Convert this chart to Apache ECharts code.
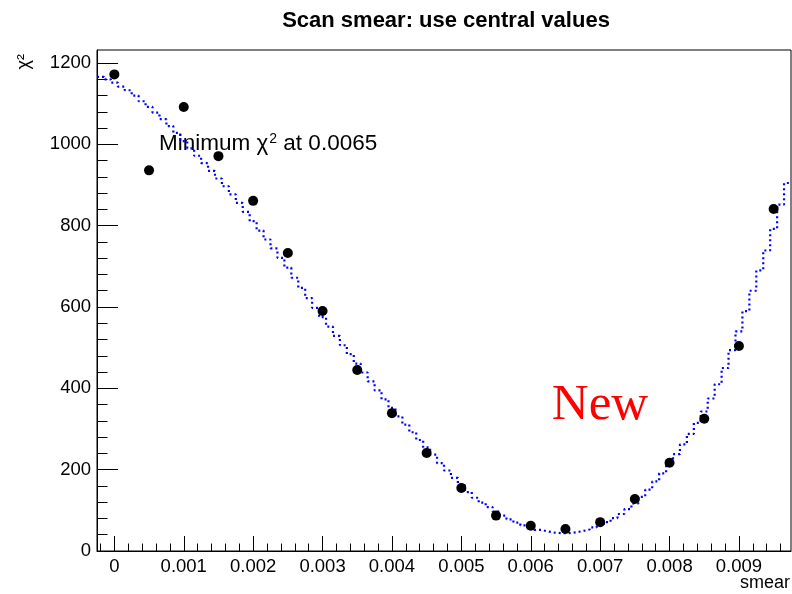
<!DOCTYPE html>
<html>
<head>
<meta charset="utf-8">
<script src="https://cdn.jsdelivr.net/npm/echarts@6/dist/echarts.min.js"></script>
<style>
  html, body { margin: 0; padding: 0; background: #fff; }
  #chart { width: 792px; height: 594px; }
</style>
</head>
<body>
<div id="chart"></div>
<script>
// scan points (black markers)
var scanSmear = [0, 0.0005, 0.001, 0.0015, 0.002, 0.0025, 0.003, 0.0035, 0.004, 0.0045,
                 0.005, 0.0055, 0.006, 0.0065, 0.007, 0.0075, 0.008, 0.0085, 0.009, 0.0095];
var scanChi2 = [1172, 936, 1092, 971, 861, 733, 590, 445, 339, 241,
                155, 87, 62, 54, 71, 128, 217, 325, 504, 841];

// fitted curve, drawn as a histogram (100 bins of 0.0001 from -0.00025)
var fitLow = -0.00025;
var fitBinWidth = 0.0001;
var fitChi2 = [1166, 1160,
  1152, 1142, 1133, 1120, 1106, 1092, 1078, 1062, 1045, 1028,
  1008, 990, 972, 954, 935, 916, 897, 877, 856, 834,
  811, 788, 766, 744, 721, 697, 672, 647, 622, 598,
  575, 552, 529, 506, 484, 461, 439, 417, 395, 373,
  352, 331, 311, 292, 273, 255, 237, 216, 198, 180,
  162, 145, 131, 119, 108, 97, 87, 78, 70, 63,
  57, 52, 48, 45, 44, 44, 46, 49, 53, 58,
  64, 71, 81, 91, 103, 117, 133, 151, 171, 191,
  214, 238, 262, 288, 315, 343, 375, 410, 450, 494,
  540, 590, 640, 690, 739, 792, 852, 905];

// axes
var xMin = -0.00025, xMax = 0.00975;
var yMin = 0, yMax = 1232;
var xTicks = [0, 0.001, 0.002, 0.003, 0.004, 0.005, 0.006, 0.007, 0.008, 0.009];
var yTicks = [0, 200, 400, 600, 800, 1000, 1200];

var xMinorTicks = [];
for (var i = -1; i <= 48; i++) xMinorTicks.push(Math.round(i * 2) / 10000);
var yMinorTicks = [];
for (var j = 0; j <= 30; j++) yMinorTicks.push(j * 40);

var fitSteps = [];
fitChi2.forEach(function (v, k) {
  var lo = fitLow + k * fitBinWidth;
  fitSteps.push([lo, v], [lo + fitBinWidth, v]);
});

var scanData = scanSmear.map(function (x, k) { return [x, scanChi2[k]]; });

var FONT = '"Liberation Sans", Arial, Helvetica, sans-serif';

var myChart = echarts.init(document.getElementById('chart'), null, { renderer: 'canvas' });

var option = {
  animation: false,
  backgroundColor: '#fff',
  grid: {
    left: 97, top: 50, right: 1, bottom: 43,
    show: true, borderColor: '#000', borderWidth: 1, backgroundColor: 'transparent'
  },
  xAxis: [{
    type: 'value', min: xMin, max: xMax,
    axisLine: { show: true, onZero: false, lineStyle: { color: '#000', width: 1 } },
    axisTick: { show: true, inside: true, length: 15, customValues: xTicks, lineStyle: { color: '#000' } },
    axisLabel: {
      customValues: xTicks, color: '#000', fontSize: 18.5, fontFamily: FONT, margin: 6,
      formatter: function (v) { return v === 0 ? '0' : v.toFixed(3); }
    },
    splitLine: { show: false }
  }, {
    type: 'value', min: xMin, max: xMax, position: 'bottom',
    axisLine: { show: false, onZero: false },
    axisTick: { show: true, inside: true, length: 7.5, customValues: xMinorTicks, lineStyle: { color: '#000' } },
    axisLabel: { show: false },
    splitLine: { show: false }
  }],
  yAxis: [{
    type: 'value', min: yMin, max: yMax,
    axisLine: { show: true, onZero: false, lineStyle: { color: '#000', width: 1 } },
    axisTick: { show: true, inside: true, length: 21, customValues: yTicks, lineStyle: { color: '#000' } },
    axisLabel: {
      customValues: yTicks, color: '#000', fontSize: 18.5, fontFamily: FONT, margin: 6,
      formatter: function (v) { return String(v); }
    },
    splitLine: { show: false }
  }, {
    type: 'value', min: yMin, max: yMax, position: 'left',
    axisLine: { show: false, onZero: false },
    axisTick: { show: true, inside: true, length: 10.5, customValues: yMinorTicks, lineStyle: { color: '#000' } },
    axisLabel: { show: false },
    splitLine: { show: false }
  }],
  series: [{
    type: 'line',
    data: fitSteps,
    showSymbol: false,
    clip: true,
    lineStyle: { color: '#0000ff', width: 2.2, type: [2, 3] },
    z: 2
  }, {
    type: 'scatter',
    data: scanData,
    symbol: 'circle',
    symbolSize: 10,
    itemStyle: { color: '#000', opacity: 1 },
    z: 3
  }],
  graphic: [{
    type: 'text', x: 446, y: 21,
    style: {
      text: 'Scan smear: use central values', fill: '#000',
      font: 'bold 22px ' + FONT, textAlign: 'center', textVerticalAlign: 'middle'
    }
  }, {
    type: 'text', x: 24, y: 54, rotation: Math.PI / 2,
    style: { text: 'χ²', fill: '#000', font: '18px ' + FONT, textAlign: 'right', textVerticalAlign: 'middle' }
  }, {
    type: 'text', x: 790, y: 583,
    style: { text: 'smear', fill: '#000', font: '18px ' + FONT, textAlign: 'right', textVerticalAlign: 'middle' }
  }, {
    type: 'text', x: 159, y: 144,
    style: {
      text: '{a|Minimum }{b|χ}{s|2}{a| at 0.0065}',
      textVerticalAlign: 'middle',
      rich: {
        a: { fontSize: 22.5, fontFamily: FONT, fill: '#000' },
        b: { fontSize: 22.5, fontFamily: FONT, fill: '#000' },
        s: { fontSize: 14, fontFamily: FONT, fill: '#000', padding: [0, 0, 10, 1] }
      }
    }
  }, {
    type: 'text', x: 600, y: 406,
    style: {
      text: 'New', fill: '#ff0000',
      font: '51px "Liberation Serif", "Times New Roman", serif',
      textAlign: 'center', textVerticalAlign: 'middle'
    }
  }]
};

myChart.setOption(option);
</script>
</body>
</html>
